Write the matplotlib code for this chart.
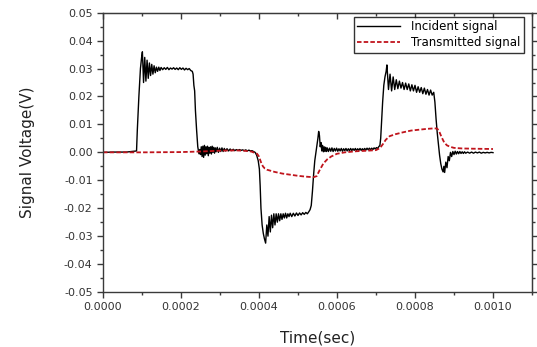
import numpy as np
import matplotlib
matplotlib.use("Agg")
import matplotlib.pyplot as plt
from matplotlib.ticker import MultipleLocator, FuncFormatter

# Incident signal: time (microseconds), voltage (millivolts)
t_inc_us = [0, 30, 60, 86, 88, 92, 96, 99, 101,
            104, 107, 110, 113, 116, 119, 122, 125, 128, 131, 134, 137, 140, 143, 146, 149,
            153, 157, 161, 165, 169, 173, 177, 181, 185, 189, 193, 197, 201, 205, 209, 213, 217, 221, 225, 229,
            231, 233, 235, 237, 240, 243, 246,
            248, 250, 252, 254, 256, 258, 260, 262, 264, 266, 268, 270, 272, 274, 276, 278, 280, 282, 284, 286, 288,
            290, 293, 296, 299, 302, 305, 308, 311, 314, 318, 322, 326, 330, 334, 338, 342, 346, 350, 354, 358,
            362, 366, 370, 374, 378, 382, 386, 390, 394, 398, 401, 403, 405, 408, 411, 414, 417,
            420, 423, 426, 429, 432, 435, 438, 441, 444, 447, 450, 453, 456, 459, 462, 465, 468, 471, 474, 477,
            480, 484, 488, 492, 496, 500, 504, 508, 512, 516, 520, 524, 528, 531, 534, 537, 540, 543, 546,
            549, 551, 553, 555, 557, 559, 561, 563, 565, 567, 569, 571, 573, 575,
            578, 581, 584, 587, 590, 593, 596, 599, 602, 605, 608, 611, 614, 617, 620, 623, 626, 629, 632, 635,
            638, 641, 644, 647, 650, 653, 656, 659, 662, 665, 668, 671, 674, 677, 680, 683, 686, 689, 692, 695,
            698, 701, 704, 707, 710, 712, 714, 717, 720, 723, 726, 728,
            732, 736, 740, 744, 748, 752, 756, 760, 764, 768, 772, 776, 780, 784, 788, 792, 796, 800, 804, 808,
            812, 816, 820, 824, 828, 832, 836, 840, 844, 848, 851, 854, 857, 860, 863, 866, 869, 872, 874, 876,
            879, 882, 885, 888, 891, 894, 897, 900, 903, 906, 909, 912, 915, 918, 921, 924, 927, 930,
            935, 940, 945, 950, 955, 960, 965, 970, 975, 980, 985, 990, 995, 1000]
v_inc_mv = [0, 0.1, 0.1, 0.5, 8, 20, 30, 34, 36,
            25, 34, 25.5, 33, 26.5, 32, 27.5, 31.5, 28, 31, 28.5, 30.5, 29, 30.5, 29.3, 30.4,
            29.6, 30.3, 29.7, 30.4, 29.6, 30.2, 29.8, 30.3, 29.7, 30.2, 29.6, 30.3, 29.7, 30.2, 29.5, 30.1, 29.6, 30, 29.3, 29,
            28, 24, 22, 15, 8, 2, -0.5,
            1.0, -0.8, 2.0, -1.5, 2.2, -1.8, 2.5, -1.0, 2.0, -0.5, 2.2, -1.2, 1.8, -0.3, 2.0, -0.6, 2.2, 0.0, 1.8, -0.3, 1.6,
            0.2, 1.8, 0.0, 1.5, 0.3, 1.6, 0.3, 1.4, 0.5, 1.3, 0.5, 1.2, 0.6, 1.1, 0.6, 1.0, 0.7, 1.0, 0.7, 0.9,
            0.6, 0.9, 0.5, 0.8, 0.5, 0.6, 0.3, 0.0, -1.0, -3, -6, -12, -20, -26, -29, -31, -32.5,
            -26, -30, -23, -28.5, -22.5, -27, -22, -26, -22, -25, -22, -24.5, -22, -24, -22, -23.5, -21.8, -23.5, -22, -23,
            -21.8, -23, -21.8, -22.8, -21.7, -22.6, -21.7, -22.4, -21.6, -22.2, -21.5, -22, -21.2, -20.5, -19, -14, -8, -3, 0,
            3, 5, 7.5, 6, 2, 3.5, 0.5, 2.5, 0.2, 2, 0.3, 1.8, 0.3, 1.6,
            0.3, 1.5, 0.4, 1.6, 0.3, 1.4, 0.5, 1.5, 0.4, 1.3, 0.5, 1.4, 0.4, 1.3, 0.6, 1.4, 0.5, 1.3, 0.6, 1.4,
            0.6, 1.3, 0.7, 1.4, 0.6, 1.3, 0.7, 1.4, 0.7, 1.3, 0.8, 1.4, 0.8, 1.5, 0.9, 1.5, 0.9, 1.5, 1.0, 1.6,
            1.2, 1.7, 1.4, 2.0, 2.5, 5, 10, 18, 24, 27, 29, 31.3,
            22.5, 28, 22, 27, 22.5, 26, 22.8, 25.5, 23, 25, 22.5, 24.8, 22.5, 24.5, 22, 24.2, 22, 24, 21.5, 23.5,
            21.5, 23.2, 21, 23, 20.8, 22.5, 20.5, 22.3, 20.5, 21.5, 18, 12, 7, 3, -1, -4, -6, -7, -5, -7.2,
            -3.5, -5.5, -1.5, -3, 0, -1.5, 0.3, -0.8, 0.4, -0.6, 0.3, -0.5, 0.3, -0.4, 0.2, -0.4, 0.2, -0.3,
            0.1, -0.3, 0.1, -0.3, 0.1, -0.2, 0.1, -0.3, 0.0, -0.2, 0.0, -0.2, 0.0, -0.1]

# Transmitted signal: time (microseconds), voltage (millivolts)
t_tr_us = [0, 100, 200, 250, 300, 340, 360, 380, 395, 400, 405, 410, 415, 420, 440, 460, 480, 500,
           520, 540, 548, 555, 565, 575, 585, 600, 620, 650, 680, 700, 710, 718, 725, 735, 750, 770,
           790, 810, 830, 850, 857, 862, 868, 875, 882, 890, 900, 920, 950, 1000]
v_tr_mv = [0, 0, 0.1, 0.3, 0.6, 0.7, 0.6, 0.3, -0.5, -1.5, -3.5, -5.0, -5.8, -6.2, -7.0, -7.6, -8.0, -8.4,
           -8.7, -8.9, -8.5, -6.5, -4.0, -2.5, -1.5, -0.5, 0.0, 0.4, 0.6, 0.8, 1.5, 3, 4.5, 5.8, 6.5, 7.2,
           7.8, 8.1, 8.4, 8.6, 8.5, 7.5, 5.5, 3.5, 2.5, 2.0, 1.6, 1.4, 1.3, 1.2]

labels = ["Incident signal", "Transmitted signal"]

t_inc = np.array(t_inc_us) * 1e-6
v_inc = np.array(v_inc_mv) * 1e-3
t_tr = np.array(t_tr_us) * 1e-6
v_tr = np.array(v_tr_mv) * 1e-3

plt.rcParams['font.family'] = ['DejaVu Sans']
plt.rcParams['axes.unicode_minus'] = False

fig = plt.figure(figsize=(5.37, 3.47), dpi=100)
ax = fig.add_axes([0.1918, 0.1585, 0.7989, 0.8049])

ax.plot(t_inc, v_inc, color='black', lw=1.0, label=labels[0])
ax.plot(t_tr, v_tr, color='#c0141c', lw=1.3, ls=(0, (2.5, 1.2)), label=labels[1])

ax.set_xlim(0, 0.0011)
ax.set_ylim(-0.05, 0.05)

spine_col = '#3a3a3a'
for s in ax.spines.values():
    s.set_color(spine_col)
    s.set_linewidth(1.0)


def fmt_x(v, pos):
    return "%.4f" % (round(v, 6) + 0.0)


def fmt_y(v, pos):
    return "%.2f" % (round(v, 4) + 0.0)


ax.xaxis.set_major_locator(MultipleLocator(0.0002))
ax.xaxis.set_minor_locator(MultipleLocator(0.0001))
ax.yaxis.set_major_locator(MultipleLocator(0.01))
ax.yaxis.set_minor_locator(MultipleLocator(0.005))
ax.xaxis.set_major_formatter(FuncFormatter(fmt_x))
ax.yaxis.set_major_formatter(FuncFormatter(fmt_y))
ax.tick_params(which='both', direction='out', colors=spine_col, labelcolor='#333333', labelsize=8)
ax.tick_params(which='major', length=4, width=1)
ax.tick_params(which='minor', length=2.5, width=1)

sx = ax.secondary_xaxis('top')
sx.xaxis.set_major_locator(MultipleLocator(0.0002))
sx.xaxis.set_minor_locator(MultipleLocator(0.0001))
sx.tick_params(which='both', direction='in', colors=spine_col, labeltop=False)
sx.tick_params(which='major', length=4, width=1)
sx.tick_params(which='minor', length=2.5, width=1)
sx.spines['top'].set_color(spine_col)

sy = ax.secondary_yaxis('right')
sy.yaxis.set_major_locator(MultipleLocator(0.01))
sy.yaxis.set_minor_locator(MultipleLocator(0.005))
sy.tick_params(which='both', direction='out', colors=spine_col, labelright=False)
sy.tick_params(which='major', length=4, width=1)
sy.tick_params(which='minor', length=2.5, width=1)
sy.spines['right'].set_color(spine_col)

ax.set_xlabel("Time(sec)", fontsize=11, color='#222222', labelpad=13)
ax.set_ylabel("Signal Voltage(V)", fontsize=11, color='#222222', labelpad=21)

leg = ax.legend(loc='upper right', bbox_to_anchor=(0.982, 0.985), fontsize=8.5,
                frameon=True, fancybox=False, edgecolor='black', handlelength=3.6,
                borderpad=0.3, labelspacing=0.25, handletextpad=1.0, borderaxespad=0)
leg.get_frame().set_linewidth(1.0)

fig.savefig("out.png", dpi=100)
